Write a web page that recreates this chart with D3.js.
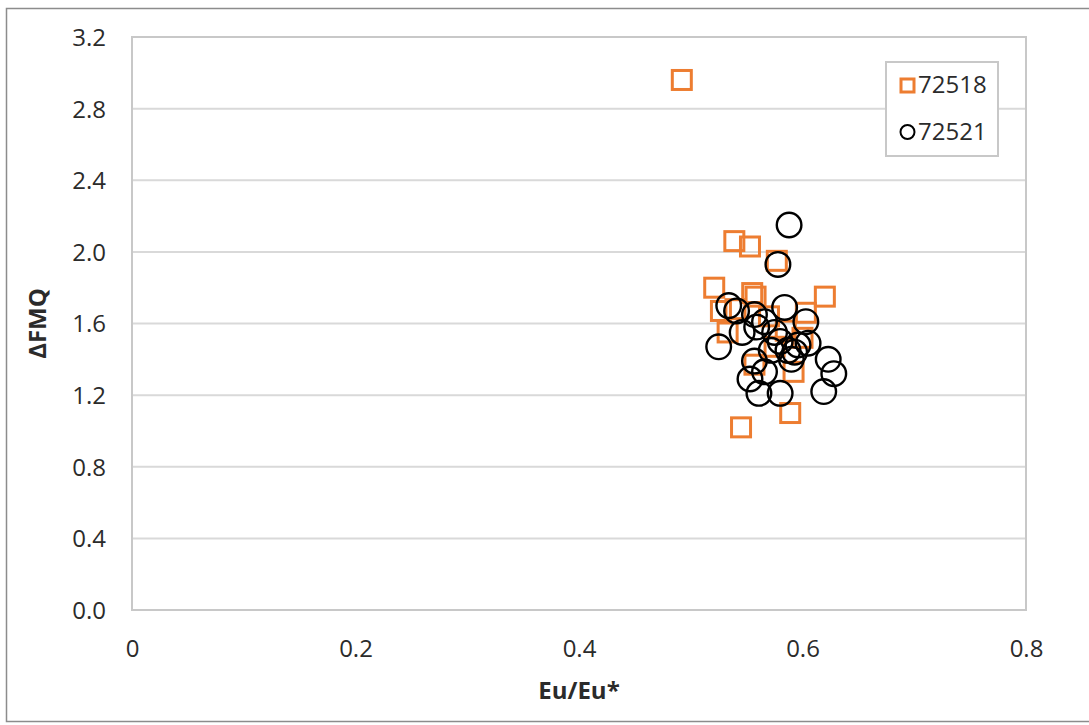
<!DOCTYPE html>
<html><head><meta charset="utf-8">
<script src="https://cdn.jsdelivr.net/npm/d3@7"></script>
<style>body{margin:0;background:#fff;}svg{display:block;}text{font-family:"Open Sans",sans-serif;fill:#2b2b2b;}</style>
</head><body>
<script>
// Data
const xTicks = [0, 0.2, 0.4, 0.6, 0.8];
const yTicks = [0, 0.4, 0.8, 1.2, 1.6, 2.0, 2.4, 2.8, 3.2];
const s72518x = [0.492,0.539,0.553,0.577,0.521,0.555,0.558,0.620,0.527,0.603,0.533,0.570,0.585,0.600,0.557,0.592,0.545,0.589,0.575,0.540];
const s72518y = [2.96,2.06,2.03,1.95,1.80,1.77,1.75,1.75,1.67,1.66,1.55,1.64,1.56,1.52,1.37,1.33,1.02,1.10,1.47,1.68];
const s72521x = [0.588,0.578,0.534,0.541,0.584,0.557,0.566,0.603,0.525,0.546,0.559,0.575,0.572,0.587,0.593,0.605,0.623,0.628,0.619,0.580,0.561,0.553,0.566,0.557,0.580,0.596,0.590];
const s72521y = [2.15,1.93,1.70,1.67,1.69,1.65,1.61,1.61,1.47,1.55,1.58,1.55,1.45,1.45,1.44,1.49,1.40,1.32,1.22,1.21,1.21,1.29,1.33,1.39,1.50,1.48,1.40];
const seriesNames = ["72518", "72521"];

const W = 1089, H = 725;
const svg = d3.select("body").append("svg").attr("width", W).attr("height", H);
// outer chart border
svg.append("rect").attr("x",6.5).attr("y",8.5).attr("width",1100).attr("height",713)
  .attr("fill","none").attr("stroke","#8c8c8c").attr("stroke-width",1.5);

const L = 132, R = 1026, T = 37, B = 610;
const x = d3.scaleLinear().domain([0, 0.8]).range([L, R]);
const y = d3.scaleLinear().domain([0, 3.2]).range([B, T]);

// gridlines
svg.append("g").selectAll("line").data(yTicks.slice(1, -1)).join("line")
  .attr("x1", L).attr("x2", R).attr("y1", d => y(d)).attr("y2", d => y(d))
  .attr("stroke", "#d9d9d9").attr("stroke-width", 2);
// plot border
svg.append("rect").attr("x", L).attr("y", T).attr("width", R - L).attr("height", B - T)
  .attr("fill", "none").attr("stroke", "#c8c8c8").attr("stroke-width", 2);

// axes (labels only)
const xAxis = d3.axisBottom(x).tickValues(xTicks).tickSize(0).tickPadding(0)
  .tickFormat(d => d === 0 ? "0" : d3.format(".1f")(d));
const gx = svg.append("g").attr("transform", `translate(0,${B})`).call(xAxis);
gx.select(".domain").remove();
gx.selectAll("text").attr("y", 47).attr("dy", 0).attr("font-size", 24).style("fill", "#2b2b2b").attr("font-family","Open Sans");

const yAxis = d3.axisLeft(y).tickValues(yTicks).tickSize(0).tickPadding(0).tickFormat(d3.format(".1f"));
const gy = svg.append("g").attr("transform", `translate(${L},0)`).call(yAxis);
gy.select(".domain").remove();
gy.selectAll("text").attr("x", -26).attr("dy", "0.35em").attr("font-size", 24).style("fill", "#2b2b2b").attr("font-family","Open Sans");

// axis titles
svg.append("text").attr("x", (L + R) / 2).attr("y", 699).attr("text-anchor", "middle")
  .attr("font-size", 24).attr("font-weight", "bold").text("Eu/Eu*");
svg.append("text").attr("transform", `translate(46,${(T + B) / 2}) rotate(-90)`).attr("text-anchor", "middle")
  .attr("font-size", 24).attr("font-weight", "bold").text("ΔFMQ");

// series 72518 squares
const sq = 19;
const d1 = s72518x.map((v, i) => ({x: v, y: s72518y[i]}));
svg.append("g").selectAll("rect").data(d1).join("rect")
  .attr("x", d => x(d.x) - sq / 2).attr("y", d => y(d.y) - sq / 2)
  .attr("width", sq).attr("height", sq)
  .attr("fill", "none").attr("stroke", "#ED7D31").attr("stroke-width", 3);

// series 72521 circles
const d2 = s72521x.map((v, i) => ({x: v, y: s72521y[i]}));
svg.append("g").selectAll("circle").data(d2).join("circle")
  .attr("cx", d => x(d.x)).attr("cy", d => y(d.y)).attr("r", 12.3)
  .attr("fill", "none").attr("stroke", "#000").attr("stroke-width", 2.4);

// legend
const lg = svg.append("g");
lg.append("rect").attr("x", 886).attr("y", 62).attr("width", 112).attr("height", 94)
  .attr("fill", "#fff").attr("stroke", "#c8c8c8").attr("stroke-width", 2);
lg.append("rect").attr("x", 901).attr("y", 79).attr("width", 13).attr("height", 13)
  .attr("fill", "none").attr("stroke", "#ED7D31").attr("stroke-width", 3);
lg.append("circle").attr("cx", 907.5).attr("cy", 132).attr("r", 7)
  .attr("fill", "none").attr("stroke", "#000").attr("stroke-width", 2);
lg.selectAll("text.lt").data(seriesNames).join("text").attr("class", "lt")
  .attr("x", 918).attr("y", (d, i) => 85 + i * 47).attr("dy", "0.35em")
  .attr("font-size", 24).text(d => d);
</script>
</body></html>
